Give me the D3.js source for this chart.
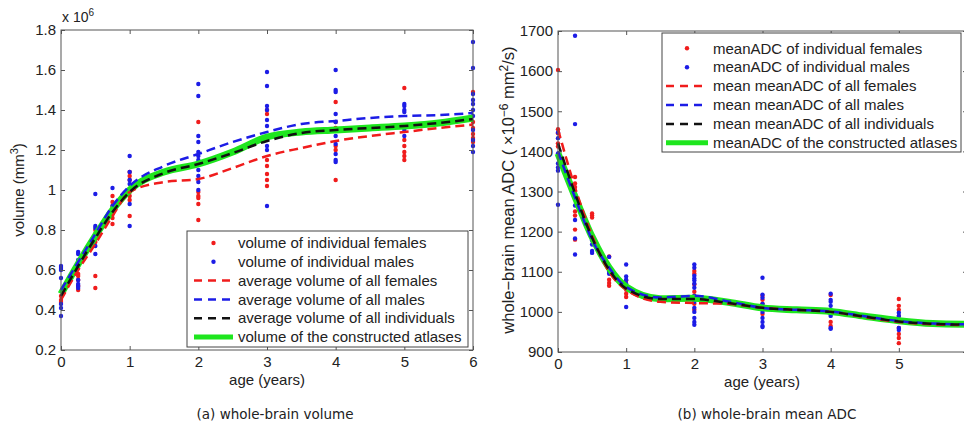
<!DOCTYPE html>
<html>
<head>
<meta charset="utf-8">
<script src="https://cdn.jsdelivr.net/npm/d3@7"></script>
<style>
  body { margin: 0; background: #fff; }
  svg { display: block; font-family: 'Liberation Sans', Arial, sans-serif; }
  .tick text { fill: #222; }
</style>
</head>
<body>
<script>
// ---- data: (a) whole-brain volume (x 10^6 mm^3) ----
const volFemales = [
  [0, 0.47], [0, 0.45], [0, 0.44],
  [0.25, 0.58], [0.25, 0.57], [0.25, 0.55], [0.25, 0.52], [0.25, 0.50],
  [0.5, 0.80], [0.5, 0.78], [0.5, 0.76], [0.5, 0.74], [0.5, 0.57], [0.5, 0.51],
  [0.75, 0.97], [0.75, 0.94], [0.75, 0.92], [0.75, 0.88], [0.75, 0.86], [0.75, 0.83],
  [1, 1.09], [1, 1.07], [1, 1.05], [1, 0.99], [1, 0.97], [1, 0.95], [1, 0.87],
  [2, 1.34], [2, 0.99], [2, 0.97], [2, 0.96], [2, 0.93], [2, 0.85],
  [3, 1.40], [3, 1.38], [3, 1.15], [3, 1.12], [3, 1.08], [3, 1.05], [3, 1.02],
  [4, 1.44], [4, 1.34], [4, 1.31], [4, 1.22], [4, 1.20], [4, 1.05],
  [5, 1.51], [5, 1.25], [5, 1.22], [5, 1.19], [5, 1.17], [5, 1.15],
  [6, 1.49], [6, 1.34], [6, 1.31], [6, 1.28], [6, 1.26], [6, 1.24]
];
const volMales = [
  [0, 0.62], [0, 0.61], [0, 0.60], [0, 0.56], [0, 0.43], [0, 0.41], [0, 0.37],
  [0.25, 0.69], [0.25, 0.68], [0.25, 0.65], [0.25, 0.63], [0.25, 0.55], [0.25, 0.53], [0.25, 0.52], [0.25, 0.51],
  [0.5, 0.98], [0.5, 0.82], [0.5, 0.81], [0.5, 0.72], [0.5, 0.68],
  [0.75, 1.01], [0.75, 0.92],
  [1, 1.17], [1, 1.09], [1, 1.05], [1, 1.03], [1, 0.93], [1, 0.82],
  [2, 1.53], [2, 1.47], [2, 1.27], [2, 1.24], [2, 1.19], [2, 1.17], [2, 1.15], [2, 1.10], [2, 1.07], [2, 1.04], [2, 1.00],
  [3, 1.59], [3, 1.52], [3, 1.42], [3, 1.40], [3, 1.35], [3, 1.32], [3, 1.25], [3, 1.22], [3, 1.20], [3, 0.92],
  [4, 1.60], [4, 1.50], [4, 1.49], [4, 1.38], [4, 1.34], [4, 1.27], [4, 1.23], [4, 1.18], [4, 1.15], [4, 1.14],
  [5, 1.43], [5, 1.42], [5, 1.40], [5, 1.39], [5, 1.30], [5, 1.27],
  [6, 1.74], [6, 1.61], [6, 1.48], [6, 1.45], [6, 1.43], [6, 1.40], [6, 1.37], [6, 1.30], [6, 1.25], [6, 1.22], [6, 1.19]
];
const curveAges = [0, 0.25, 0.5, 0.75, 1, 1.5, 2, 2.5, 3, 3.5, 4, 4.5, 5, 5.5, 6];
const volAvgFemales = [0.45, 0.60, 0.73, 0.87, 0.99, 1.04, 1.055, 1.11, 1.17, 1.21, 1.245, 1.27, 1.29, 1.31, 1.327];
const volAvgMales = [0.50, 0.64, 0.78, 0.92, 1.02, 1.12, 1.18, 1.24, 1.29, 1.33, 1.345, 1.36, 1.37, 1.375, 1.385];
const volAvgAll = [0.47, 0.62, 0.76, 0.89, 0.99, 1.085, 1.13, 1.185, 1.245, 1.285, 1.30, 1.31, 1.32, 1.335, 1.355];
const volAtlas = [0.48, 0.63, 0.77, 0.90, 1.00, 1.09, 1.13, 1.19, 1.265, 1.29, 1.30, 1.31, 1.32, 1.335, 1.36];

// ---- data: (b) whole-brain mean ADC (x 10^-6 mm^2/s) ----
const adcFemales = [
  [0, 1603], [0, 1455], [0, 1445], [0, 1420], [0, 1412],
  [0.25, 1336], [0.25, 1320], [0.25, 1311], [0.25, 1250], [0.25, 1240], [0.25, 1205], [0.25, 1180],
  [0.5, 1245], [0.5, 1240], [0.5, 1235],
  [0.75, 1138], [0.75, 1080], [0.75, 1072], [0.75, 1065],
  [1, 1078], [1, 1060], [1, 1055], [1, 1045], [1, 1037],
  [2, 1102], [2, 1095], [2, 1068], [2, 1050], [2, 1040], [2, 1030], [2, 1020], [2, 1005],
  [3, 1040], [3, 1030], [3, 1020], [3, 995],
  [4, 1042], [4, 975], [4, 965],
  [5, 1032], [5, 1015], [5, 1005], [5, 990], [5, 980], [5, 960], [5, 945], [5, 935], [5, 922],
  [6, 985], [6, 975], [6, 960]
];
const adcMales = [
  [0, 1447], [0, 1433], [0, 1395], [0, 1370], [0, 1360], [0, 1352], [0, 1267],
  [0.25, 1688], [0.25, 1468], [0.25, 1265], [0.25, 1229], [0.25, 1183], [0.25, 1143],
  [0.5, 1178], [0.5, 1168], [0.5, 1152], [0.5, 1147],
  [0.75, 1137], [0.75, 1100], [0.75, 1095],
  [1, 1118], [1, 1088], [1, 1080], [1, 1070], [1, 1012],
  [2, 1118], [2, 1110], [2, 1090], [2, 1083], [2, 1078], [2, 1070], [2, 1060], [2, 1040], [2, 1025], [2, 1010], [2, 1000], [2, 985], [2, 975], [2, 968],
  [3, 1085], [3, 1043], [3, 1035], [3, 1020], [3, 1000], [3, 985], [3, 975], [3, 965], [3, 962],
  [4, 1045], [4, 1030], [4, 1025], [4, 1015], [4, 1005], [4, 995], [4, 990], [4, 960], [4, 958],
  [5, 998], [5, 990], [5, 960], [5, 955],
  [6, 990], [6, 970]
];
const adcMeanFemales = [1455, 1310, 1190, 1100, 1055, 1025, 1022, 1020, 1010, 1005, 1000, 987, 975, 969, 967];
const adcMeanMales = [1400, 1285, 1180, 1110, 1062, 1036, 1040, 1026, 1010, 1005, 1001, 989, 977, 971, 969];
const adcMeanAll = [1420, 1295, 1185, 1105, 1058, 1032, 1032, 1022, 1010, 1005, 1000, 988, 976, 970, 968];
const adcAtlas = [1395, 1287, 1187, 1110, 1062, 1033, 1034, 1024, 1010, 1005, 1001, 989, 978, 971, 969];

// ---- ticks ----
const ageTicks = [0, 1, 2, 3, 4, 5, 6];
const ageTickLabels = ['0', '1', '2', '3', '4', '5', '6'];
const volTicks = [0.2, 0.4, 0.6, 0.8, 1, 1.2, 1.4, 1.6, 1.8];
const volTickLabels = ['0.2', '0.4', '0.6', '0.8', '1', '1.2', '1.4', '1.6', '1.8'];
const adcTicks = [900, 1000, 1100, 1200, 1300, 1400, 1500, 1600, 1700];
const adcTickLabels = ['900', '1000', '1100', '1200', '1300', '1400', '1500', '1600', '1700'];

const volLegend = [
  'volume of individual females', 'volume of individual males',
  'average volume of all females', 'average volume of all males',
  'average volume of all individuals', 'volume of the constructed atlases'
];
const adcLegend = [
  'meanADC of individual females', 'meanADC of individual males',
  'mean meanADC of all females', 'mean meanADC of all males',
  'mean meanADC of all individuals', 'meanADC of the constructed atlases'
];

// styles: dots red, dots blue, dashed red, dashed blue, dashed black, green solid
const RED = '#f01c1c';
const BLUE = '#1c1ce6';
const GREEN = '#1ee61e';
const styles = [
  { type: 'dot', color: RED },
  { type: 'dot', color: BLUE },
  { type: 'dash', color: RED },
  { type: 'dash', color: BLUE },
  { type: 'dash', color: '#111' },
  { type: 'solid', color: GREEN }
];

const W = 964;
const H = 425;

const svg = d3.select('body')
  .append('svg')
  .attr('width', W)
  .attr('height', H);

function panel(cfg) {
  const x = d3.scaleLinear().domain([0, 6]).range(cfg.xRange);
  const y = d3.scaleLinear().domain(cfg.yDomain).range(cfg.yRange);
  const g = svg.append('g');

  // Scatter
  [[cfg.females, RED], [cfg.males, BLUE]].forEach(([pts, color]) => {
    g.append('g').selectAll('circle')
      .data(pts)
      .enter()
      .append('circle')
      .attr('cx', d => x(d[0]))
      .attr('cy', d => y(d[1]))
      .attr('r', 2.2)
      .attr('fill', color);
  });

  // Curves
  const line = d3.line()
    .x((d, i) => x(curveAges[i]))
    .y(d => y(d))
    .curve(d3.curveMonotoneX);

  g.append('path').datum(cfg.atlas)
    .attr('d', line).attr('fill', 'none')
    .attr('stroke', GREEN).attr('stroke-width', 7);

  [[cfg.meanF, RED], [cfg.meanM, BLUE], [cfg.meanAll, '#111']].forEach(([vals, color]) => {
    g.append('path').datum(vals)
      .attr('d', line).attr('fill', 'none')
      .attr('stroke', color).attr('stroke-width', 2.5)
      .attr('stroke-dasharray', '9,5');
  });

  // Axes (MATLAB style: box, inward ticks)
  const xBottom = d3.axisBottom(x).tickValues(cfg.xTicks)
    .tickFormat((d, i) => ageTickLabels[i]).tickSizeInner(-4).tickSizeOuter(0).tickPadding(6);
  const xTop = d3.axisTop(x).tickValues(cfg.xTicks).tickSizeInner(-4).tickSizeOuter(0).tickFormat('');
  const yLeft = d3.axisLeft(y).tickValues(cfg.yTicks)
    .tickFormat((d, i) => cfg.yTickLabels[i]).tickSizeInner(-4).tickSizeOuter(0).tickPadding(5);
  const yRight = d3.axisRight(y).tickValues(cfg.yTicks).tickSizeInner(-4).tickSizeOuter(0).tickFormat('');

  const axes = [
    [xBottom, `translate(0,${cfg.yRange[0]})`],
    [xTop, `translate(0,${cfg.yRange[1]})`],
    [yLeft, `translate(${cfg.xRange[0]},0)`],
    [yRight, `translate(${cfg.xRange[1]},0)`]
  ];
  axes.forEach(([axis, tr]) => {
    const a = g.append('g').attr('transform', tr).call(axis);
    a.select('.domain').remove();
    a.selectAll('line').attr('stroke', '#555');
    a.selectAll('text').attr('font-size', 15).attr('font-family', "'Liberation Sans', Arial, sans-serif");
  });

  g.append('rect')
    .attr('x', cfg.xRange[0])
    .attr('y', cfg.yRange[1])
    .attr('width', cfg.xRange[1] - cfg.xRange[0])
    .attr('height', cfg.yRange[0] - cfg.yRange[1])
    .attr('fill', 'none')
    .attr('stroke', '#555')
    .attr('stroke-width', 1);

  // x label
  g.append('text')
    .attr('x', (cfg.xLabelX))
    .attr('y', cfg.yRange[0] + 35)
    .attr('text-anchor', 'middle')
    .attr('font-size', 15)
    .attr('fill', '#222')
    .text('age (years)');

  // Legend
  const lg = g.append('g');
  const L = cfg.legend;
  lg.append('rect')
    .attr('x', L.x).attr('y', L.y)
    .attr('width', L.w).attr('height', L.h)
    .attr('fill', '#fff').attr('stroke', '#444').attr('stroke-width', 1);
  cfg.legendLabels.forEach((label, i) => {
    const cy = L.y + L.first + i * L.step;
    const s = styles[i];
    if (s.type === 'dot') {
      lg.append('circle')
        .attr('cx', (L.lx0 + L.lx1) / 2).attr('cy', cy)
        .attr('r', 2.2).attr('fill', s.color);
    } else {
      lg.append('line')
        .attr('x1', L.lx0).attr('x2', L.lx1)
        .attr('y1', cy).attr('y2', cy)
        .attr('stroke', s.color)
        .attr('stroke-width', s.type === 'solid' ? 5 : 2.5)
        .attr('stroke-dasharray', s.type === 'dash' ? '8,6' : null);
    }
    lg.append('text')
      .attr('x', L.tx).attr('y', cy)
      .attr('dy', '0.35em')
      .attr('font-size', L.fs)
      .attr('fill', '#222')
      .text(label);
  });

  // Caption
  g.append('text')
    .attr('x', cfg.captionX)
    .attr('y', 419)
    .attr('text-anchor', 'middle')
    .attr('font-family', "'DejaVu Sans', Verdana, sans-serif")
    .attr('font-size', 13.5)
    .attr('fill', '#222')
    .text(cfg.caption);

  return g;
}

// (a) volume
const ga = panel({
  xRange: [61, 473],
  xTicks: ageTicks,
  yDomain: [0.2, 1.8],
  yRange: [350, 30],
  yTicks: volTicks,
  yTickLabels: volTickLabels,
  females: volFemales,
  males: volMales,
  meanF: volAvgFemales,
  meanM: volAvgMales,
  meanAll: volAvgAll,
  atlas: volAtlas,
  xLabelX: 267,
  legendLabels: volLegend,
  legend: { x: 187, y: 231, w: 281, h: 116, first: 12, step: 18.8, lx0: 194, lx1: 233, tx: 238, fs: 15 },
  captionX: 275,
  caption: '(a) whole-brain volume'
});

// x 10^6 multiplier
const mult = ga.append('text')
  .attr('x', 62).attr('y', 22)
  .attr('font-size', 14).attr('fill', '#222');
mult.append('tspan').text('x 10');
mult.append('tspan').attr('dy', -6).attr('font-size', 10).text('6');

// volume y label
const volLabel = ga.append('text')
  .attr('transform', 'translate(24,190) rotate(-90)')
  .attr('text-anchor', 'middle')
  .attr('font-size', 15).attr('fill', '#222');
volLabel.append('tspan').text('volume (mm');
volLabel.append('tspan').attr('dy', -6).attr('font-size', 11).text('3');
volLabel.append('tspan').attr('dy', 6).text(')');

// (b) mean ADC; the panel runs past the right edge, so the "6" label is not shown
const gb = panel({
  xRange: [558, 967],
  xTicks: ageTicks.slice(0, 6),
  yDomain: [900, 1700],
  yRange: [352, 31],
  yTicks: adcTicks,
  yTickLabels: adcTickLabels,
  females: adcFemales,
  males: adcMales,
  meanF: adcMeanFemales,
  meanM: adcMeanMales,
  meanAll: adcMeanAll,
  atlas: adcAtlas,
  xLabelX: 762,
  legendLabels: adcLegend,
  legend: { x: 662, y: 33, w: 299, h: 119, first: 15.3, step: 18.9, lx0: 666, lx1: 708, tx: 713, fs: 15 },
  captionX: 767,
  caption: '(b) whole-brain mean ADC'
});

const adcLabel = gb.append('text')
  .attr('transform', 'translate(514,190) rotate(-90)')
  .attr('text-anchor', 'middle')
  .attr('font-size', 16.5).attr('fill', '#222');
adcLabel.append('tspan').text('whole\u2212brain mean ADC ( \u00d710');
adcLabel.append('tspan').attr('dy', -6).attr('font-size', 12).text('\u22126');
adcLabel.append('tspan').attr('dy', 6).text(' mm');
adcLabel.append('tspan').attr('dy', -6).attr('font-size', 12).text('2');
adcLabel.append('tspan').attr('dy', 6).text('/s)');
</script>
</body>
</html>
